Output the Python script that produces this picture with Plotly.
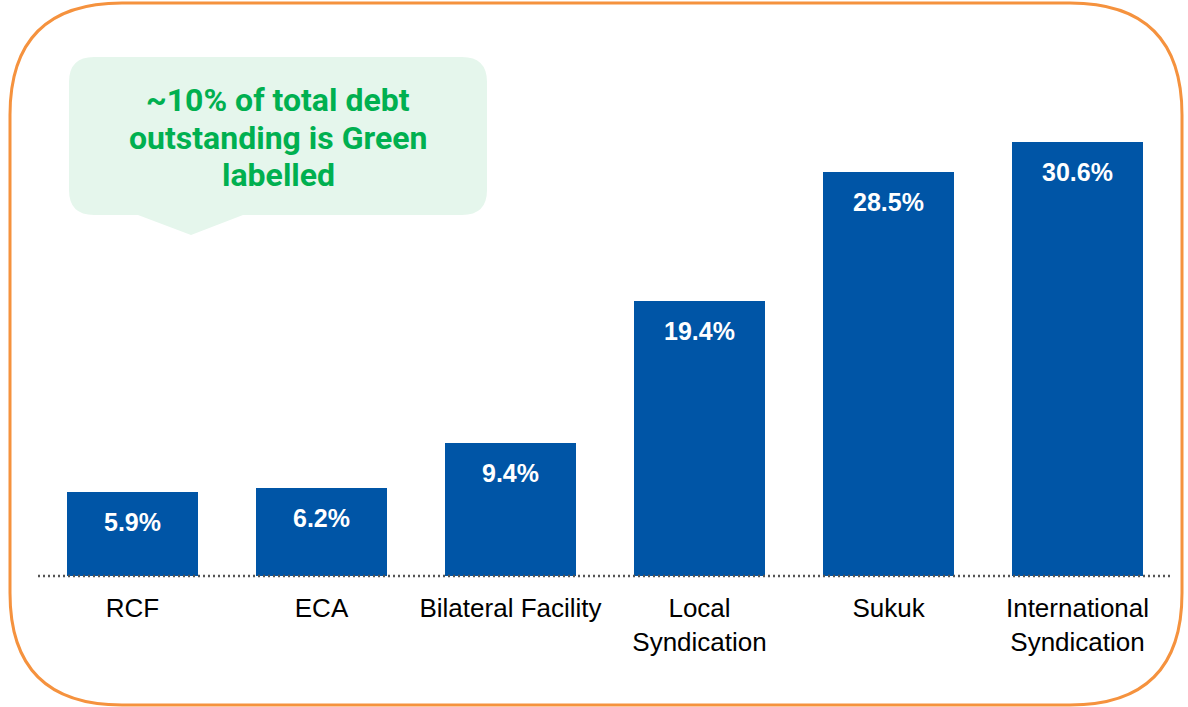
import plotly.graph_objects as go

categories = ["RCF", "ECA", "Bilateral Facility", "Local<br>Syndication", "Sukuk", "International<br>Syndication"]
values = [5.9, 6.2, 9.4, 19.4, 28.5, 30.6]
value_labels = ["5.9%", "6.2%", "9.4%", "19.4%", "28.5%", "30.6%"]
callout_lines = ["~10% of total debt", "outstanding is Green", "labelled"]

W, H = 1188, 707
L, R, T, B = 38, 16, 60, 131
PW, PH = W - L - R, H - T - B


def px(X):
    return (X - L) / PW


def py(Y):
    return (H - B - Y) / PH


def rounded_rect(x0, y0, x1, y1, r, extra_bottom=None):
    pts = []
    pts.append(f"M {px(x0 + r)},{py(y0)}")
    pts.append(f"L {px(x1 - r)},{py(y0)}")
    pts.append(f"Q {px(x1)},{py(y0)} {px(x1)},{py(y0 + r)}")
    pts.append(f"L {px(x1)},{py(y1 - r)}")
    pts.append(f"Q {px(x1)},{py(y1)} {px(x1 - r)},{py(y1)}")
    if extra_bottom:
        (bx1, bx0, tx, ty) = extra_bottom
        pts.append(f"L {px(bx1)},{py(y1)}")
        pts.append(f"L {px(tx)},{py(ty)}")
        pts.append(f"L {px(bx0)},{py(y1)}")
    pts.append(f"L {px(x0 + r)},{py(y1)}")
    pts.append(f"Q {px(x0)},{py(y1)} {px(x0)},{py(y1 - r)}")
    pts.append(f"L {px(x0)},{py(y0 + r)}")
    pts.append(f"Q {px(x0)},{py(y0)} {px(x0 + r)},{py(y0)}")
    pts.append("Z")
    return " ".join(pts)


fig = go.Figure()
fig.add_trace(go.Bar(
    x=list(range(len(categories))),
    y=values,
    width=0.688,
    marker=dict(color="#0055A6", line=dict(width=0)),
    hoverinfo="skip",
))

for i, (v, t) in enumerate(zip(values, value_labels)):
    fig.add_annotation(
        x=i, y=v, xref="x", yref="y", text=t, showarrow=False,
        yanchor="middle", yshift=-30,
        font=dict(family="Liberation Sans, Arial, sans-serif",
                  size=25, color="white", weight="bold"),
    )

shapes = []
# outer orange rounded border
shapes.append(dict(type="path", xref="paper", yref="paper",
                   path=rounded_rect(10, 3, 1182, 705, 112),
                   line=dict(color="#F5923E", width=3), fillcolor="rgba(0,0,0,0)", layer="above"))
# callout
shapes.append(dict(type="path", xref="paper", yref="paper",
                   path=rounded_rect(69, 57, 487, 215, 25, extra_bottom=(243, 138, 191, 235)),
                   line=dict(width=0), fillcolor="#E5F6EC", layer="below"))
# dotted baseline
shapes.append(dict(type="line", xref="paper", yref="paper",
                   x0=px(38), x1=px(1170), y0=0, y1=0,
                   line=dict(color="#555555", width=2.4, dash="2px,3px"), layer="above"))
fig.update_layout(shapes=shapes)

line_gap = 37.5
center_y = 137.5
n = len(callout_lines)
for k, line in enumerate(callout_lines):
    fig.add_annotation(
        xref="paper", yref="paper", x=px(278), y=py(center_y + (k - (n - 1) / 2) * line_gap),
        text=line, showarrow=False, xanchor="center", yanchor="middle", align="center",
        font=dict(family="Roboto, sans-serif", size=32, color="#00B050", weight="bold"),
    )

fig.update_xaxes(
    tickmode="array", tickvals=list(range(len(categories))), ticktext=categories,
    range=[-0.5, len(categories) - 0.5], showgrid=False, zeroline=False, showline=False,
    ticks="", ticklabelstandoff=14,
    tickfont=dict(family="Liberation Sans, Arial, sans-serif", size=26, color="#000000"),
    fixedrange=True,
)
fig.update_yaxes(range=[0, PH / (576 - 142) * 30.6], visible=False, showgrid=False, zeroline=False,
                 fixedrange=True)

fig.update_layout(
    width=W, height=H,
    margin=dict(l=L, r=R, t=T, b=B, pad=0),
    paper_bgcolor="white", plot_bgcolor="white",
    showlegend=False, bargap=0,
)

fig.write_html("out.html", config={"displayModeBar": False})
